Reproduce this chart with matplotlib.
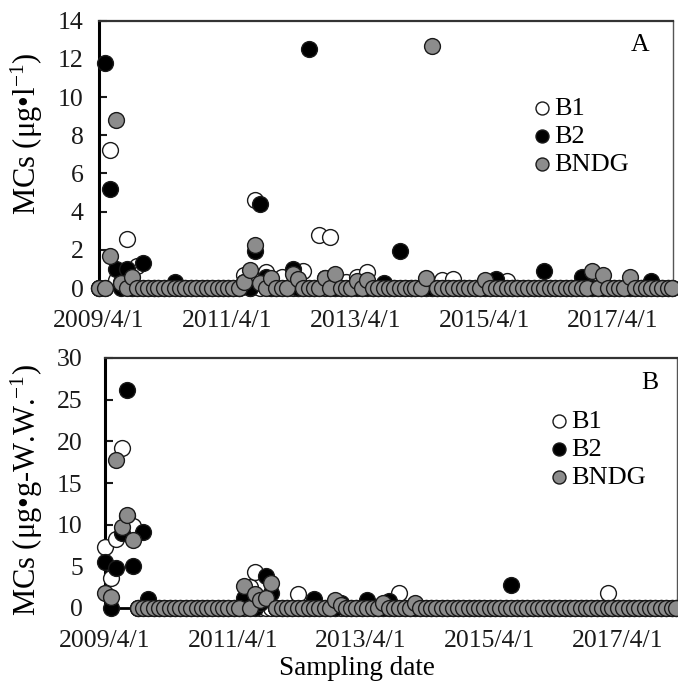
import matplotlib
matplotlib.use("Agg")
import matplotlib.pyplot as plt
import pandas as pd

plt.rcParams['font.family'] = ['Liberation Serif', 'DejaVu Serif']
plt.rcParams['mathtext.fontset'] = 'custom'
plt.rcParams['mathtext.rm'] = 'Liberation Serif'
plt.rcParams['mathtext.it'] = 'Liberation Serif:italic'

# Monthly sampling dates (Apr 2009 - Mar 2018)
sampling_dates = [
    "2009-04-03", "2009-05-05", "2009-06-05", "2009-07-05", "2009-08-05", "2009-09-05",
    "2009-10-05", "2009-11-05", "2009-12-05",
    "2010-01-05", "2010-02-05", "2010-03-05", "2010-04-05", "2010-05-05", "2010-06-05",
    "2010-07-05", "2010-08-05", "2010-09-05", "2010-10-05", "2010-11-05", "2010-12-05",
    "2011-01-05", "2011-02-05", "2011-03-05", "2011-04-05", "2011-05-05", "2011-06-05",
    "2011-07-05", "2011-08-05", "2011-09-05", "2011-10-05", "2011-11-05", "2011-12-05",
    "2012-01-05", "2012-02-05", "2012-03-05", "2012-04-05", "2012-05-05", "2012-06-05",
    "2012-07-05", "2012-08-05", "2012-09-05", "2012-10-05", "2012-11-05", "2012-12-05",
    "2013-01-05", "2013-02-05", "2013-03-05", "2013-04-05", "2013-05-05", "2013-06-05",
    "2013-07-05", "2013-08-05", "2013-09-05", "2013-10-05", "2013-11-05", "2013-12-05",
    "2014-01-05", "2014-02-05", "2014-03-05", "2014-04-05", "2014-05-05", "2014-06-05",
    "2014-07-05", "2014-08-05", "2014-09-05", "2014-10-05", "2014-11-05", "2014-12-05",
    "2015-01-05", "2015-02-05", "2015-03-05", "2015-04-05", "2015-05-05", "2015-06-05",
    "2015-07-05", "2015-08-05", "2015-09-05", "2015-10-05", "2015-11-05", "2015-12-05",
    "2016-01-05", "2016-02-05", "2016-03-05", "2016-04-05", "2016-05-05", "2016-06-05",
    "2016-07-05", "2016-08-05", "2016-09-05", "2016-10-05", "2016-11-05", "2016-12-05",
    "2017-01-05", "2017-02-05", "2017-03-05", "2017-04-05", "2017-05-05", "2017-06-05",
    "2017-07-05", "2017-08-05", "2017-09-05", "2017-10-05", "2017-11-05", "2017-12-05",
    "2018-01-05", "2018-02-05", "2018-03-05",
]

# Dissolved MCs in water (ug/L)
water_B1 = (
    [0, 0, 7.25, 0.4, 0.3, 2.55, 0, 1.15, 0] +
    [0, 0, 0, 0, 0, 0, 0, 0, 0, 0, 0, 0] +
    [0, 0, 0, 0, 0, 0, 0.7, 0, 4.6, 0, 0.85, 0] +
    [0, 0.6, 0, 0, 0, 0.9, 0, 0, 2.75, 0, 2.65, 0] +
    [0, 0.3, 0, 0.6, 0, 0.85, 0, 0, 0, 0, 0, 0] +
    [0, 0, 0, 0, 0, 0, 0, 0.4, 0, 0.45, 0, 0] +
    [0, 0, 0, 0, 0, 0, 0, 0.35, 0, 0, 0, 0] +
    [0, 0, 0, 0, 0, 0, 0, 0, 0, 0, 0, 0] +
    [0, 0, 0, 0, 0, 0, 0, 0, 0, 0, 0, 0] +
    [0, 0, 0]
)
water_B2 = (
    [0, 11.8, 5.2, 1.0, 0, 1.0, 0, 0, 1.3] +
    [0, 0, 0, 0, 0, 0.3, 0, 0, 0, 0, 0, 0] +
    [0, 0, 0, 0, 0, 0, 0.3, 0, 1.95, 4.4, 0.6, 0] +
    [0, 0, 0, 1.0, 0, 0, 12.5, 0, 0, 0.5, 0, 0] +
    [0, 0, 0, 0, 0, 0, 0, 0, 0.25, 0, 0, 1.95] +
    [0, 0, 0, 0, 0, 0, 0, 0, 0, 0, 0, 0] +
    [0, 0, 0, 0, 0, 0.45, 0, 0, 0, 0, 0, 0] +
    [0, 0, 0.9, 0, 0, 0, 0, 0, 0, 0.6, 0, 0] +
    [0, 0, 0, 0, 0, 0, 0, 0, 0, 0, 0.35, 0] +
    [0, 0, 0]
)
water_BNDG = (
    [0, 0, 1.7, 8.8, 0.25, 0, 0.55, 0, 0] +
    [0, 0, 0, 0, 0, 0, 0, 0, 0, 0, 0, 0] +
    [0, 0, 0, 0, 0, 0, 0.3, 0.95, 2.25, 0.25, 0, 0.5] +
    [0, 0, 0, 0.75, 0.45, 0, 0, 0, 0, 0.5, 0, 0.75] +
    [0, 0, 0, 0.35, 0, 0.4, 0, 0, 0, 0, 0, 0] +
    [0, 0, 0, 0, 0.5, 12.7, 0, 0, 0, 0, 0, 0] +
    [0, 0, 0, 0.4, 0, 0, 0, 0, 0, 0, 0, 0] +
    [0, 0, 0, 0, 0, 0, 0, 0, 0, 0, 0, 0.9] +
    [0, 0.7, 0, 0, 0, 0, 0.6, 0, 0, 0, 0, 0] +
    [0, 0, 0]
)

# MCs in tissue (ug/g wet weight)
tissue_B1 = (
    [7.3, 3.6, 8.3, 19.2, 11.0, 9.8, 0, 0, 0] +
    [0, 0, 0, 0, 0, 0, 0, 0, 0, 0, 0, 0] +
    [0, 0, 0, 0, 0, 0, 2.5, 4.3, 0, 0, 0, 0] +
    [0, 0, 0, 1.7, 0, 0, 0, 0, 0, 0, 0, 0] +
    [0, 0, 0, 0, 0, 0, 0, 0, 0, 0, 1.85, 0] +
    [0, 0, 0, 0, 0, 0, 0, 0, 0, 0, 0, 0] +
    [0, 0, 0, 0, 0, 0, 0, 0, 0, 0, 0, 0] +
    [0, 0, 0, 0, 0, 0, 0, 0, 0, 0, 0, 0] +
    [0, 1.8, 0, 0, 0, 0, 0, 0, 0, 0, 0, 0] +
    [0, 0, 0]
)
tissue_B2 = (
    [5.5, 0, 4.8, 9.0, 26.2, 5.0, 0, 9.1, 1.1] +
    [0, 0, 0, 0, 0, 0, 0, 0, 0, 0, 0, 0] +
    [0, 0, 0, 0, 0, 1.2, 0, 0, 0.6, 3.8, 1.8, 0] +
    [0, 0, 0, 0, 0, 0, 1.1, 0, 0, 0, 0, 0.6] +
    [0, 0, 0, 0, 1.0, 0, 0, 0, 0.9, 0, 0, 0] +
    [0, 0, 0, 0, 0, 0, 0, 0, 0, 0, 0, 0] +
    [0, 0, 0, 0, 0, 0, 0, 2.8, 0, 0, 0, 0] +
    [0, 0, 0, 0, 0, 0, 0, 0, 0, 0, 0, 0] +
    [0, 0, 0, 0, 0, 0, 0, 0, 0, 0, 0, 0] +
    [0, 0, 0]
)
tissue_BNDG = (
    [1.8, 1.35, 17.8, 9.7, 11.2, 8.2, 0, 0, 0] +
    [0, 0, 0, 0, 0, 0, 0, 0, 0, 0, 0, 0] +
    [0, 0, 0, 0, 0, 2.6, 0, 1.7, 1.0, 1.25, 3.0, 0] +
    [0, 0, 0, 0, 0, 0, 0, 0, 0, 0, 1.0, 0.4] +
    [0, 0, 0, 0, 0, 0, 0, 0.6, 0, 0, 0, 0] +
    [0, 0.6, 0, 0, 0, 0, 0, 0, 0, 0, 0, 0] +
    [0, 0, 0, 0, 0, 0, 0, 0, 0, 0, 0, 0] +
    [0, 0, 0, 0, 0, 0, 0, 0, 0, 0, 0, 0] +
    [0, 0, 0, 0, 0, 0, 0, 0, 0, 0, 0, 0] +
    [0, 0, 0]
)

series_names = ["B1", "B2", "BNDG"]
tick_labels = ["2009/4/1", "2011/4/1", "2013/4/1", "2015/4/1", "2017/4/1"]
x_range = ["2009-04-01", "2018-03-08"]

dates = pd.to_datetime(sampling_dates)
tick_pos = pd.to_datetime(tick_labels, format="%Y/%m/%d")
xlim = pd.to_datetime(x_range)

face_colors = ["white", "black", "#8c8c8c"]
edge_color = "#1a1a1a"
FS = 18.5

fig = plt.figure(figsize=(6.78, 6.82), dpi=100)
axA = fig.add_axes([99 / 678, 1 - 288 / 682, 574 / 678, 267.3 / 682])
axB = fig.add_axes([105 / 678, 1 - 608 / 682, 572 / 678, 250 / 682])


def draw_panel(ax, values, ymax, ystep, letter, ypad, leg_anchor):
    handles = []
    for vals, fc, name, z in zip(values, face_colors, series_names, (3, 4, 5)):
        h = ax.scatter(dates, vals, s=130, c=fc, edgecolors=edge_color,
                       linewidths=1.0, zorder=z, clip_on=False, label=name)
        handles.append(h)
    ax.set_xlim(xlim[0], xlim[1])
    ax.set_ylim(0, ymax)
    ax.set_yticks(range(0, ymax + 1, ystep))
    ax.set_xticks(tick_pos)
    ax.set_xticklabels(tick_labels)
    ax.tick_params(axis='y', direction='in', length=6, width=1.5,
                   labelsize=FS, pad=ypad, colors='#1a1a1a')
    ax.tick_params(axis='x', length=0, labelsize=FS, pad=16, colors='#1a1a1a')
    ax.spines['left'].set_linewidth(2.2)
    ax.spines['left'].set_color('black')
    ax.spines['bottom'].set_linewidth(2.0)
    ax.spines['bottom'].set_color('black')
    ax.spines['top'].set_linewidth(1.6)
    ax.spines['top'].set_color('#333333')
    ax.spines['right'].set_linewidth(1.0)
    ax.spines['right'].set_color('#555555')
    ax.text(*letter[1], letter[0], transform=ax.transAxes, fontsize=FS,
            ha='center', va='center')
    ax.legend(handles=handles, loc='upper left', bbox_to_anchor=leg_anchor,
              frameon=False, fontsize=19, markerscale=0.82, handletextpad=0.13,
              labelspacing=0.18, borderpad=0, handlelength=0.7)


draw_panel(axA, [water_B1, water_B2, water_BNDG], 14, 2, ("A", (0.943, 0.909)),
           11, (0.732, 0.766))
draw_panel(axB, [tissue_B1, tissue_B2, tissue_BNDG], 30, 5, ("B", (0.953, 0.9)),
           16, (0.7545, 0.848))

fig.text(27 / 678, 1 - 134 / 682, r"MCs (μg•l$^{-1}$)", rotation=90,
         ha='center', va='center', fontsize=22)
fig.text(27 / 678, 1 - 490 / 682, r"MCs (μg•g-W.W.$^{-1}$)", rotation=90,
         ha='center', va='center', fontsize=22)
fig.text(357 / 678, 1 - 675 / 682, "Sampling date", ha='center', va='baseline',
         fontsize=19.5)

fig.savefig("out.png", dpi=100)
